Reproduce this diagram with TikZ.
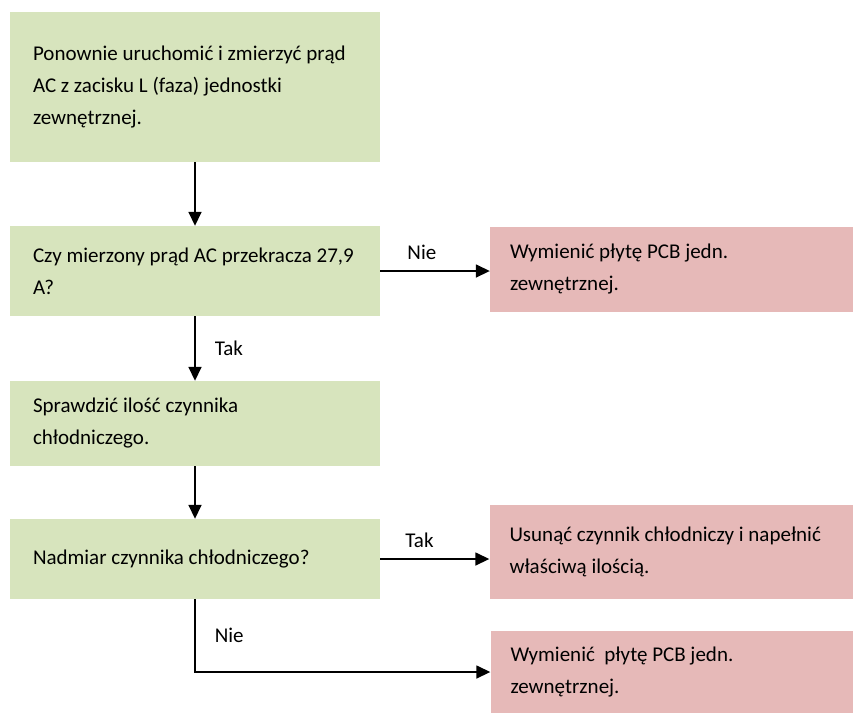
\documentclass[tikz,border=0pt]{standalone}
\usepackage{fontspec}
\setmainfont{Carlito}
\usepackage{tikz}
\usetikzlibrary{arrows.meta, positioning}
\definecolor{stepgreen}{HTML}{D7E4BD}
\definecolor{fixred}{HTML}{E6B9B8}
\tikzset{
  stepbox/.style={fill=stepgreen, minimum width=370pt, text width=324pt, inner xsep=23pt, align=flush left,
    font=\fontsize{21}{32}\selectfont},
  fixbox/.style={fill=fixred, minimum width=363pt, text width=323pt, inner xsep=20pt, align=flush left,
    font=\fontsize{21}{32}\selectfont},
  flow/.style={line width=1.6pt, -{Triangle[length=14pt,width=13pt]}},
  answer/.style={font=\fontsize{21}{24}\selectfont, inner sep=2pt}
}
\begin{document}
\begin{tikzpicture}[x=1pt, y=-1pt]
  % pixel grid of the flow chart: (x,y) from the top left corner
  \useasboundingbox (0,0) rectangle (853,713);
  \node[stepbox, minimum height=150pt] (restart) at (195,87) {Ponownie uruchomić i zmierzyć prąd\\AC z zacisku L (faza) jednostki\\zewnętrznej.};
  \node[stepbox, minimum height=90pt] (current) at (195,271) {Czy mierzony prąd AC przekracza 27,9\\A?};
  \node[stepbox, minimum height=85pt] (refrig) at (195,423.5) {Sprawdzić ilość czynnika\\chłodniczego.};
  \node[stepbox, minimum height=80pt] (excess) at (195,559) {Nadmiar czynnika chłodniczego?};
  \node[fixbox, minimum height=85pt] (pcbA) at (671.5,269.5) {Wymienić płytę PCB jedn.\\zewnętrznej.};
  \node[fixbox, minimum height=94pt] (refill) at (671,552) {Usunąć czynnik chłodniczy i napełnić\\właściwą ilością.};
  \node[fixbox, minimum height=82pt] (pcbB) at (672,672) {Wymienić~ płytę PCB jedn.\\zewnętrznej.};

  \draw[flow] (restart) -- (current);
  \draw[flow] (current.east) -- (current.east -| pcbA.west) node[answer, above=9pt, pos=.38] (noA) {Nie};
  \draw[flow] (current) -- (refrig) node[answer, right=17pt, midway] (yesA) {Tak};
  \draw[flow] (refrig) -- (excess);
  \draw[flow] (excess.east) -- (excess.east -| refill.west) node[answer, above=9pt, pos=.36] (yesB) {Tak};
  \draw[flow] (excess) |- (pcbB.west) node[answer, right=17pt, pos=.25] (noB) {Nie};
\end{tikzpicture}
\end{document}
